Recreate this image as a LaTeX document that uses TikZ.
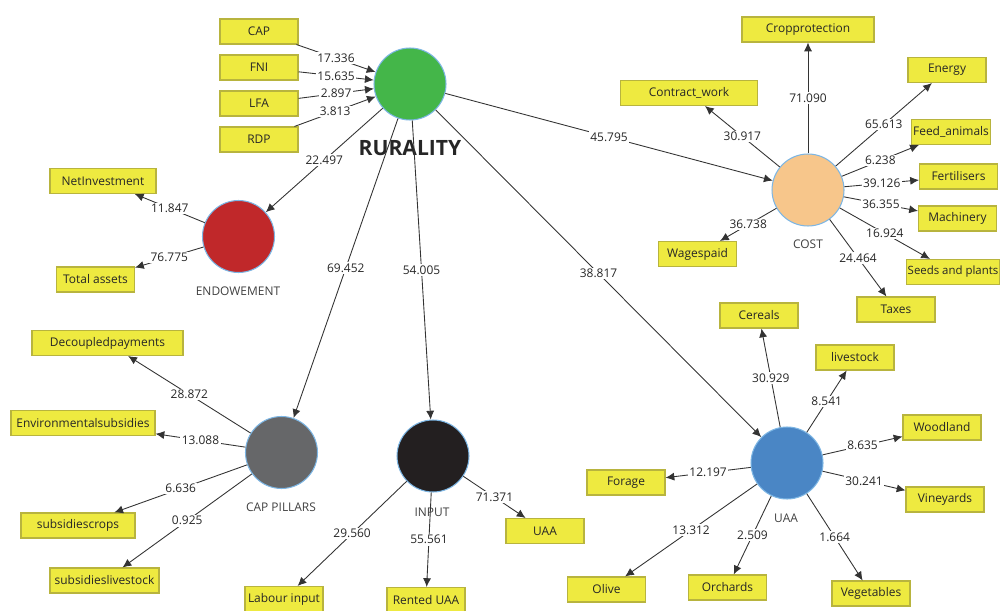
\documentclass[tikz,border=0pt]{standalone}
\usepackage{fontspec}
\setmainfont{Open Sans}
\usepackage{xcolor}
\usepackage{tikz}
\usetikzlibrary{arrows.meta,positioning}

\definecolor{indyellow}{RGB}{238,234,64}
\definecolor{indborder}{RGB}{184,180,62}
\definecolor{rurgreen}{RGB}{68,182,73}
\definecolor{costorange}{RGB}{247,198,139}
\definecolor{endred}{RGB}{192,40,42}
\definecolor{capgray}{RGB}{102,103,105}
\definecolor{inpblack}{RGB}{35,31,32}
\definecolor{uaablue}{RGB}{74,134,197}
\definecolor{rimblue}{RGB}{125,182,228}

\tikzset{
	ind/.style={draw=indborder,fill=indyellow,line width=0.6pt,minimum width=1.56cm,minimum height=0.5cm,inner sep=1pt,text=black!85,font=\fontsize{6.8}{8}\selectfont},
	lv/.style={circle,draw=rimblue,line width=0.6pt,minimum size=1.44cm,inner sep=0pt},
	lvname/.style={text=black!75,font=\fontsize{6.8}{8}\selectfont},
	link/.style={-{Latex[length=5pt,width=4.6pt]},black!80,line width=0.5pt},
	val/.style={fill=white,inner sep=0.8pt,text=black!85,font=\fontsize{6.8}{8}\selectfont}
}

\begin{document}
\begin{tikzpicture}[x=0.02cm,y=-0.02cm]
		\useasboundingbox (0,0) rectangle (1000,611);
		% latent variables
		\node[lv,fill=rurgreen] (rur) at (410,84) {};
		\node[font=\bfseries\fontsize{12}{14}\selectfont,text=black!85] (rurname) at (410,148) {RURALITY};
		\node[lv,fill=endred] (endow) at (238.5,236.5) {};
		\node[lvname] (endowname) at (238,291) {ENDOWEMENT};
		\node[lv,fill=capgray] (pillars) at (281.5,452.5) {};
		\node[lvname] (pillarsname) at (281,507) {CAP PILLARS};
		\node[lv,fill=inpblack] (input) at (433,456) {};
		\node[lvname] (inputname) at (432,512) {INPUT};
		\node[lv,fill=costorange] (cost) at (808,190) {};
		\node[lvname] (costname) at (808,244) {COST};
		\node[lv,fill=uaablue] (uaa) at (787,463) {};
		\node[lvname] (uaaname) at (786,518) {UAA};
		% indicators of rurality
		\node[ind] (cap) at (259,31.5) {CAP};
		\node[ind] (fni) at (259,67.5) {FNI};
		\node[ind] (lfa) at (259,103.5) {LFA};
		\node[ind] (rdp) at (259,139.5) {RDP};
		% indicators of endowement
		\node[ind,minimum width=2.12cm] (netinv) at (103,181) {NetInvestment};
		\node[ind] (assets) at (95.5,279.5) {Total assets};
		% indicators of cap pillars
		\node[ind,minimum width=3.02cm] (decoupled) at (107.5,343) {Decoupledpayments};
		\node[ind,minimum width=2.88cm] (envsub) at (83,423) {Environmentalsubsidies};
		\node[ind,minimum width=2.28cm] (subcrops) at (78,525.5) {subsidiescrops};
		\node[ind,minimum width=2.18cm] (sublive) at (104.5,580.5) {subsidieslivestock};
		% indicators of input
		\node[ind] (labour) at (284,599) {Labour input};
		\node[ind] (rented) at (426,600) {Rented UAA};
		\node[ind] (uaabox) at (545,531) {UAA};
		% indicators of cost
		\node[ind,minimum width=2.64cm] (cropprot) at (808,29.5) {Cropprotection};
		\node[ind,minimum width=2.74cm] (contract) at (689,93) {Contract\_work};
		\node[ind] (energy) at (947,70) {Energy};
		\node[ind] (feed) at (951,132) {Feed\_animals};
		\node[ind] (fert) at (958.5,176.5) {Fertilisers};
		\node[ind] (machin) at (957.5,218.5) {Machinery};
		\node[ind,minimum width=1.86cm,inner sep=0.5pt,font=\fontsize{6.5}{8}\selectfont] (seeds) at (953,272) {Seeds and plants};
		\node[ind] (taxes) at (896,309.5) {Taxes};
		\node[ind] (wages) at (697.5,254) {Wagespaid};
		% indicators of uaa
		\node[ind] (cereals) at (759,315.5) {Cereals};
		\node[ind] (livestock) at (855,357.5) {livestock};
		\node[ind] (woodland) at (942,427.5) {Woodland};
		\node[ind] (vineyards) at (945,499.5) {Vineyards};
		\node[ind] (forage) at (626,482.5) {Forage};
		\node[ind] (olive) at (606.5,589.5) {Olive};
		\node[ind] (orchards) at (727.5,587.5) {Orchards};
		\node[ind] (vegetables) at (871,593.5) {Vegetables};
		% inner model
		\draw[link] (rur) -- node[val] {22.497} (endow);
		\draw[link] (rur) -- node[val] {69.452} (pillars);
		\draw[link] (rur) -- node[val] {54.005} (input);
		\draw[link] (rur) -- node[val] {38.817} (uaa);
		\draw[link] (rur) -- node[val] {45.795} (cost);
		% outer model
		\draw[link] (cap) -- node[val] {17.336} (rur);
		\draw[link] (fni) -- node[val] {15.635} (rur);
		\draw[link] (lfa) -- node[val] {2.897} (rur);
		\draw[link] (rdp) -- node[val] {3.813} (rur);
		\draw[link] (endow) -- node[val] {11.847} (netinv);
		\draw[link] (endow) -- node[val] {76.775} (assets);
		\draw[link] (pillars) -- node[val] {28.872} (decoupled);
		\draw[link] (pillars) -- node[val] {13.088} (envsub);
		\draw[link] (pillars) -- node[val] {6.636} (subcrops);
		\draw[link] (pillars) -- node[val] {0.925} (sublive);
		\draw[link] (input) -- node[val] {29.560} (labour);
		\draw[link] (input) -- node[val] {55.561} (rented);
		\draw[link] (input) -- node[val] {71.371} (uaabox);
		\draw[link] (cost) -- node[val] {71.090} (cropprot);
		\draw[link] (cost) -- node[val] {30.917} (contract);
		\draw[link] (cost) -- node[val] {65.613} (energy);
		\draw[link] (cost) -- node[val] {6.238} (feed);
		\draw[link] (cost) -- node[val] {39.126} (fert);
		\draw[link] (cost) -- node[val] {36.355} (machin);
		\draw[link] (cost) -- node[val] {16.924} (seeds);
		\draw[link] (cost) -- node[val] {24.464} (taxes);
		\draw[link] (cost) -- node[val] {36.738} (wages);
		\draw[link] (uaa) -- node[val] {30.929} (cereals);
		\draw[link] (uaa) -- node[val] {8.541} (livestock);
		\draw[link] (uaa) -- node[val] {8.635} (woodland);
		\draw[link] (uaa) -- node[val] {30.241} (vineyards);
		\draw[link] (uaa) -- node[val] {12.197} (forage);
		\draw[link] (uaa) -- node[val] {13.312} (olive);
		\draw[link] (uaa) -- node[val] {2.509} (orchards);
		\draw[link] (uaa) -- node[val] {1.664} (vegetables);
	\end{tikzpicture}
\end{document}
